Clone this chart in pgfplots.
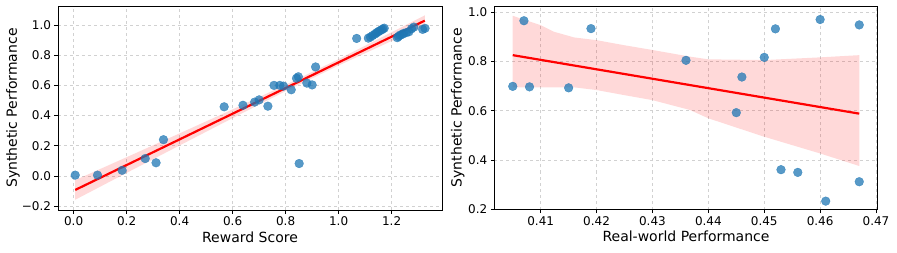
\documentclass[border=0pt]{standalone}
\usepackage{fontspec}
\setmainfont{DejaVu Sans}
\usepackage{pgfplots}
\pgfplotsset{compat=1.18}
\definecolor{mblue}{HTML}{1F77B4}
\pgfplotsset{
  mystyle/.style={
    scale only axis,
    axis line style={line width=0.8pt},
    grid=major,
    grid style={dashed, black!18, line width=0.5pt},
    tick align=outside,
    xtick pos=lower, ytick pos=left,
    major tick length=3.5pt,
    tick style={black, line width=0.7pt},
    ticklabel style={font=\fontsize{12}{13}\selectfont},
    label style={font=\fontsize{14}{16}\selectfont},
    /pgf/number format/assume math mode=true,
  },
  pts/.style={only marks, mark=*, mark size=4.4pt, color=mblue,
    mark options={solid, draw=mblue, fill=mblue, line width=0.3pt, opacity=0.75}},
  band/.style={fill=red, fill opacity=0.15, draw=none},
  fit/.style={red, line width=2.2pt},
}
\begin{document}
\begin{tikzpicture}
\path[use as bounding box] (0,0) rectangle (897pt,252pt);
% ---------------- left panel ----------------
\begin{axis}[mystyle,
  at={(58pt,42pt)}, anchor=south west,
  width=384pt, height=204pt,
  xmin=-0.059, xmax=1.39, ymin=-0.226, ymax=1.126,
  xtick={0,0.2,0.4,0.6,0.8,1.0,1.2},
  xticklabels={0.0,0.2,0.4,0.6,0.8,1.0,1.2},
  ytick={-0.2,0,0.2,0.4,0.6,0.8,1.0},
  yticklabels={−0.2,0.0,0.2,0.4,0.6,0.8,1.0},
  xlabel={Reward Score}, ylabel={Synthetic Performance},
  xlabel style={at={(axis description cs:0.5,-0.132)}, anchor=center},
  ylabel style={at={(axis description cs:-0.117,0.5)}, anchor=center, rotate=0},
]
\addplot[pts] coordinates {
(0.006,0.005) (0.090,0.005) (0.183,0.037) (0.270,0.115) (0.311,0.087)
(0.339,0.240) (0.568,0.458) (0.639,0.468) (0.683,0.489) (0.700,0.504)
(0.733,0.462) (0.756,0.600) (0.778,0.600) (0.792,0.595) (0.821,0.571)
(0.841,0.647) (0.848,0.657) (0.851,0.082) (0.880,0.615) (0.900,0.603)
(0.913,0.722) (1.068,0.911) (1.112,0.913) (1.120,0.920) (1.128,0.930)
(1.137,0.940) (1.143,0.948) (1.149,0.955) (1.155,0.962) (1.162,0.968)
(1.167,0.974) (1.172,0.979) (1.221,0.916) (1.226,0.924) (1.232,0.933)
(1.240,0.938) (1.246,0.945) (1.256,0.950) (1.265,0.955) (1.275,0.975)
(1.284,0.986) (1.317,0.971) (1.326,0.978)
};
\addplot[band] coordinates {
(0.006,-0.028) (0.2,0.124) (0.4,0.282) (0.6,0.441) (0.8,0.604) (1.0,0.774) (1.2,0.952) (1.325,1.064)
(1.325,0.994) (1.2,0.894) (1.0,0.732) (0.8,0.562) (0.6,0.383) (0.4,0.202) (0.2,0.020) (0.006,-0.158)
} -- cycle;
\addplot[fit] coordinates {(0.006,-0.093) (1.325,1.029)};
\end{axis}
% ---------------- right panel ----------------
\begin{axis}[mystyle,
  at={(494.3pt,42.5pt)}, anchor=south west,
  width=383.4pt, height=203.5pt,
  xmin=0.4017, xmax=0.4703, ymin=0.198, ymax=1.026,
  xtick={0.41,0.42,0.43,0.44,0.45,0.46,0.47},
  xticklabels={0.41,0.42,0.43,0.44,0.45,0.46,0.47},
  ytick={0.2,0.4,0.6,0.8,1.0},
  yticklabels={0.2,0.4,0.6,0.8,1.0},
  xlabel={Real-world Performance}, ylabel={Synthetic Performance},
  xlabel style={at={(axis description cs:0.5,-0.134)}, anchor=center},
  ylabel style={at={(axis description cs:-0.095,0.5)}, anchor=center, rotate=0},
]
\addplot[pts] coordinates {
(0.405,0.699) (0.407,0.966) (0.408,0.697) (0.415,0.693) (0.419,0.934)
(0.436,0.805) (0.445,0.592) (0.446,0.737) (0.450,0.817) (0.452,0.933)
(0.453,0.360) (0.456,0.349) (0.460,0.971) (0.461,0.232) (0.467,0.949)
(0.467,0.311)
};
\addplot[band] coordinates {
(0.405,0.986) (0.410,0.948) (0.4124,0.921) (0.416,0.898) (0.420,0.887)
(0.4248,0.867) (0.430,0.847) (0.4367,0.820) (0.440,0.809) (0.450,0.806)
(0.460,0.817) (0.467,0.826)
(0.467,0.375) (0.460,0.426) (0.450,0.494) (0.440,0.569) (0.4367,0.603)
(0.430,0.643) (0.4248,0.664) (0.420,0.684) (0.416,0.695) (0.410,0.695)
(0.405,0.695)
} -- cycle;
\addplot[fit] coordinates {(0.405,0.826) (0.467,0.588)};
\end{axis}
\end{tikzpicture}
\end{document}
